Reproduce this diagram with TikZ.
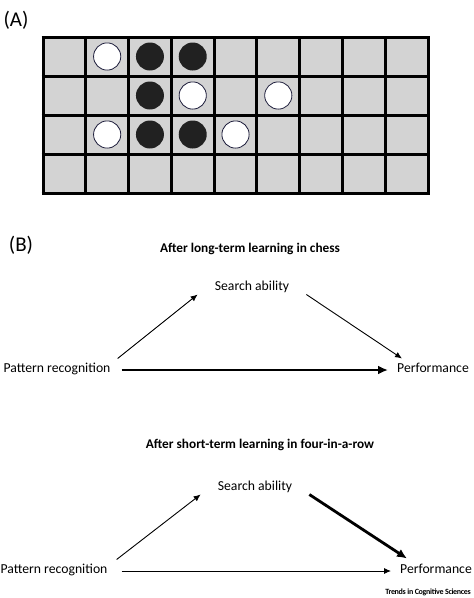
\documentclass[tikz,border=0pt]{standalone}
\usepackage{fontspec}
\setmainfont{Carlito}
\newfontfamily\trendsfont[LetterSpace=-4]{Carlito}
\usetikzlibrary{positioning,arrows.meta}
\definecolor{cellgray}{RGB}{211,211,211}
\definecolor{stone}{RGB}{33,33,33}
\definecolor{rimcol}{RGB}{30,30,60}
\tikzset{
  panel/.style={font=\fontsize{21}{24}\selectfont, inner sep=0pt},
  lbl/.style={font=\fontsize{13.7}{16}\selectfont, inner sep=0pt, text height=1.5ex, text depth=.3ex},
  ttl/.style={font=\fontsize{13.3}{15}\selectfont\bfseries, inner sep=0pt},
  thinarrow/.style={-{Latex[length=7pt,width=6pt]}, line width=0.9pt},
  thickarrow/.style={-{Latex[length=10pt,width=9pt]}, line width=2.8pt},
}
\begin{document}
\begin{tikzpicture}[x=1pt,y=-1pt]
\useasboundingbox (0,0) rectangle (474,598);
% panel A: board
\node[panel] (pa) at (16,20) {(A)};
\fill[cellgray] (43,37) rectangle (428,193);
\foreach \c in {0,...,9}
  \draw[line width=3pt] (43+\c*42.78,37) -- (43+\c*42.78,193);
\foreach \r in {0,...,4}
  \draw[line width=3pt] (41.5,37+\r*39) -- (429.5,37+\r*39);
\foreach \c/\r in {2/0,3/0,2/1,2/2,3/2}
  \fill[stone] (64.39+42.78*\c,56.5+39*\r) circle (14);
\foreach \c/\r in {1/0,3/1,5/1,1/2,4/2}
  \filldraw[fill=white, draw=rimcol, line width=0.8pt] (64.39+42.78*\c,56.5+39*\r) circle (13.6);
% panel B
\node[panel] (pb) at (21,245) {(B)};
% long-term
\node[ttl] (t1) at (250,249) {After long-term learning in chess};
\node[lbl] (sa1) at (252,288) {Search ability};
\node[lbl] (pr1) at (57,370) {Pattern recognition};
\node[lbl] (pf1) at (433,370) {Performance};
\draw[thinarrow] ([shift={(7pt,7pt)}]pr1.north east) -- ([shift={(-17pt,-2pt)}]sa1.south west);
\draw[thinarrow] ([shift={(17pt,-2pt)}]sa1.south east) -- ([shift={(5pt,7pt)}]pf1.north west);
\draw[thickarrow, shorten <=11pt, shorten >=9pt] (pr1.east) -- (pf1.west);
% short-term
\node[ttl] (t2) at (260,445) {After short-term learning in four-in-a-row};
\node[lbl] (sa2) at (255,488) {Search ability};
\node[lbl] (pr2) at (54,571) {Pattern recognition};
\node[lbl] (pf2) at (436,571) {Performance};
\draw[thinarrow] ([shift={(9pt,7pt)}]pr2.north east) -- ([shift={(-17pt,-2pt)}]sa2.south west);
\draw[thickarrow] ([shift={(17pt,-2pt)}]sa2.south east) -- ([shift={(7pt,8pt)}]pf2.north west);
\draw[thinarrow, shorten <=14pt, shorten >=9pt] (pr2.east) -- (pf2.west);
\node[anchor=east, inner sep=0pt, font=\trendsfont\bfseries\fontsize{8}{10}\selectfont] (src) at (471,592) {Trends in Cognitive Sciences};
\end{tikzpicture}
\end{document}
